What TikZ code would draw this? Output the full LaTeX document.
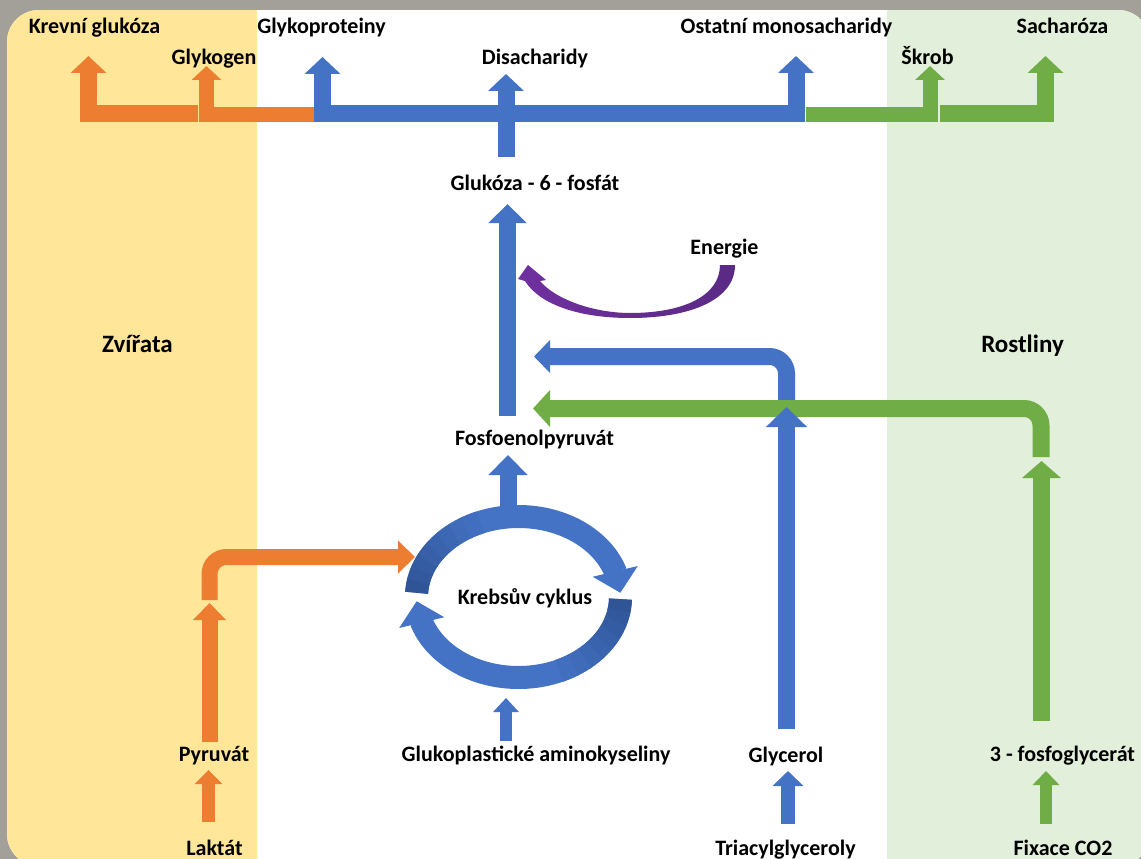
\documentclass[tikz,border=0pt]{standalone}
\usepackage{fontspec}
\setmainfont{Carlito}
\usetikzlibrary{arrows.meta,bending}

\definecolor{orng}{HTML}{ED7D31}
\definecolor{blu}{HTML}{4472C4}
\definecolor{bludark}{HTML}{2F5597}
\definecolor{grn}{HTML}{70AD47}
\definecolor{purp}{HTML}{7030A0}
\definecolor{purpdark}{HTML}{5A2A85}
\definecolor{yel}{HTML}{FFE699}
\definecolor{lgrn}{HTML}{E2EFDA}
\definecolor{frame}{HTML}{A3A09A}

\begin{document}
\begin{tikzpicture}[x=1pt,y=-1pt,line join=miter,
  lbl/.style={anchor=base,inner sep=0pt,font=\fontsize{22}{26}\selectfont\bfseries},
  biglbl/.style={lbl,font=\fontsize{25}{30}\selectfont\bfseries},
  fat/.style={line width=17pt,-{Triangle[width=35pt,length=17pt]}},
  slim/.style={line width=15pt,-{Triangle[width=29pt,length=14pt]}},
  stub/.style={line width=13pt,-{Triangle[width=27pt,length=14pt]}},
  elbow/.style={fat,rounded corners=17pt}]
  \useasboundingbox (0,0) rectangle (1141,859);

  % frame, animals and plants panels
  \fill[frame] (0,0) rectangle (1141,859);
  \begin{scope}
    \clip[rounded corners=32pt] (7,10) rectangle (1150,866);
    \fill[white] (7,10) rectangle (1150,866);
    \fill[yel] (7,10) rectangle (257,866);
    \fill[lgrn] (887,10) rectangle (1150,866);
  \end{scope}

  % labels
  \foreach \name/\x/\y/\txt in {
    kglu/94.5/34/Krevní glukóza, glkp/321.5/34/Glykoproteiny,
    glkg/214/65/Glykogen, disa/535/65/Disacharidy,
    ostm/786.5/34/Ostatní monosacharidy, skrob/927.5/65/Škrob,
    sach/1062.5/34/Sacharóza, g6p/535/190/Glukóza - 6 - fosfát,
    ener/724.5/254/Energie, pep/534.5/445/Fosfoenolpyruvát,
    krebs/525/604/Krebsův cyklus, pyr/214/761/Pyruvát,
    glam/536/761/Glukoplastické aminokyseliny, glyc/786/762/Glycerol,
    fgly/1062.5/761/3 - fosfoglycerát, lakt/214.5/855/Laktát,
    tag/785.5/855/Triacylglyceroly, fix/1063/855/Fixace CO2}
    \node[lbl] (\name) at (\x,\y) {\txt};
  \node[biglbl] (zvir) at (137.5,352) {Zvířata};
  \node[biglbl] (rost) at (1022.5,352) {Rostliny};

  % arrow ends and bends
  \foreach \name/\x/\y in {
    kgA/198/113, kgB/88.5/113, kgT/88.5/56,
    gkA/315/114, gkB/206.5/114, gkT/206.5/66,
    gpT/322.5/57, gpB/322.5/113, omB/796/113, omT/796/56,
    dsA/506/157, dsT/506/74,
    skA/806/114, skB/930/114, skT/930/66,
    saA/940/113, saB/1045.5/113, saT/1045.5/56,
    g6A/507.5/416, g6T/507.5/204,
    glA/786.5/402, glB/786.5/356.5, glT/534/356.5,
    fgA/1041/457, fgB/1041/408.5, fgT/533/408.5,
    gyA/786.5/729, gyT/786.5/407,
    fpA/1041.5/721, fpT/1041.5/461,
    peA/508/508, peT/508/455,
    kc/518.5/597,
    pyA/209.5/600, pyB/209.5/557, pyT/415/557,
    puA/209.5/742, puT/209.5/603,
    lkA/208.5/822, lkT/208.5/770,
    amA/506/741, amT/506/698,
    tgA/788/824, tgT/788/771,
    fxA/1046/824, fxT/1046/771}
    \coordinate (\name) at (\x,\y);

  % top row
  \draw[fat,orng] (kgA) -- (kgB) -- (kgT);
  \draw[slim,orng] (gkA) -- (gkB) -- (gkT);
  \draw[fat,blu,{Triangle[width=35pt,length=17pt]}-{Triangle[width=35pt,length=17pt]}] (gpT) -- (gpB) -- (omB) -- (omT);
  \draw[fat,blu] (dsA) -- (dsT);
  \draw[slim,grn] (skA) -- (skB) -- (skT);
  \draw[fat,grn] (saA) -- (saB) -- (saT);

  % middle
  \draw[fat,blu,-{Triangle[width=37pt,length=19pt]}] (g6A) -- (g6T);
  \shade[left color=purp,right color=purpdark] (735,265)
    .. controls (735,300) and (690,318) .. (630,318)
    .. controls (580,318) and (540,305) .. (525,281) -- (518,279) -- (528,265) -- (546,280) -- (540,281)
    .. controls (556,300) and (595,313) .. (630,313)
    .. controls (685,313) and (720,295) .. (720,265) -- cycle;
  \draw[elbow,blu,-{Triangle[width=32pt,length=16pt]}] (glA) -- (glB) -- (glT);
  \draw[elbow,grn,-{Triangle[width=36pt,length=17pt]}] (fgA) -- (fgB) -- (fgT);
  \draw[fat,blu,-{Triangle[width=40pt,length=20pt]}] (gyA) -- (gyT);
  \draw[fat,grn,-{Triangle[width=38pt,length=17pt]}] (fpA) -- (fpT);
  \draw[fat,blu,-{Triangle[width=38pt,length=20pt]}] (peA) -- (peT);

  % Krebs cycle
  \draw[blu,line width=23pt,-{Triangle[width=45pt,length=22pt]}]
    ([shift={(183:102 and 80.5)}]kc) arc[start angle=183,end angle=357,x radius=102,y radius=80.5];
  \draw[blu,line width=23pt,-{Triangle[width=45pt,length=22pt]}]
    ([shift={(1.5:102 and 80.5)}]kc) arc[start angle=1.5,end angle=177,x radius=102,y radius=80.5];
  \foreach \k in {0,...,7} {
    \pgfmathsetmacro\mix{100-12.5*\k}
    \draw[bludark!\mix!blu,line width=23pt]
      ([shift={(183+8*\k:102 and 80.5)}]kc) arc[start angle=183+8*\k,end angle=192+8*\k,x radius=102,y radius=80.5];
    \draw[bludark!\mix!blu,line width=23pt]
      ([shift={(1.5+8*\k:102 and 80.5)}]kc) arc[start angle=1.5+8*\k,end angle=10.5+8*\k,x radius=102,y radius=80.5];
  }

  % bottom
  \draw[elbow,orng,line width=16pt,-{Triangle[width=32pt,length=17pt]}] (pyA) -- (pyB) -- (pyT);
  \draw[fat,orng,line width=16pt,-{Triangle[width=32pt,length=17pt]}] (puA) -- (puT);
  \draw[stub,orng] (lkA) -- (lkT);
  \draw[stub,blu,line width=12pt,-{Triangle[width=25pt,length=14pt]}] (amA) -- (amT);
  \draw[stub,blu,line width=14pt,-{Triangle[width=30pt,length=15pt]}] (tgA) -- (tgT);
  \draw[stub,grn,line width=12pt,-{Triangle[width=26pt,length=14pt]}] (fxA) -- (fxT);
\end{tikzpicture}
\end{document}
